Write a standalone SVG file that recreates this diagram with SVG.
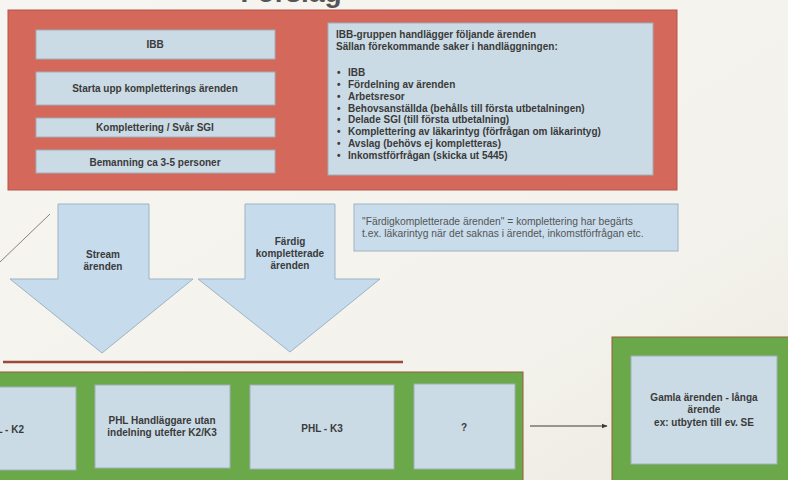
<svg xmlns="http://www.w3.org/2000/svg" width="788" height="480" viewBox="0 0 788 480">
  <defs>
    <linearGradient id="paper" x1="0" y1="0" x2="1" y2="1">
      <stop offset="0" stop-color="#f6f5f1"/>
      <stop offset="0.7" stop-color="#f3f2ec"/>
      <stop offset="1" stop-color="#ece9df"/>
    </linearGradient>
    <marker id="arrowhead" viewBox="0 0 10 10" refX="9" refY="5" markerWidth="6" markerHeight="6" orient="auto">
      <path d="M0,1 L10,5 L0,9 z" fill="#3a3a3a"/>
    </marker>
    <style>
      .panel-red { fill: #d3685b; stroke: #b8544a; stroke-width: 1; }
      .panel-green { fill: #6aa84a; stroke: #9a5a3a; stroke-width: 1; }
      .box { fill: #cbdbe5; stroke: #9fb0ba; stroke-width: 1; }
      .note { fill: #c8dceb; stroke: #9fb3c2; stroke-width: 1; }
      .arrow { fill: #c6dcec; stroke: #9db3c3; stroke-width: 1; }
      .t { font-family: "Liberation Sans", Arial, sans-serif; font-weight: bold; font-size: 10px; fill: #3a3a3a; }
      .c { text-anchor: middle; }
      .n { font-family: "Liberation Sans", Arial, sans-serif; font-size: 10.3px; fill: #555; }
      .title { font-family: "Liberation Sans", Arial, sans-serif; font-weight: bold; font-size: 28px; fill: #555; text-anchor: middle; }
    </style>
  </defs>

  <rect x="0" y="0" width="788" height="480" fill="url(#paper)"/>

  <text class="title" x="291" y="2">Förslag</text>

  <!-- upper panel: IBB group -->
  <g id="ibb-panel">
    <rect class="panel-red" x="8" y="10" width="669" height="180"/>
  </g>
  <g id="ibb">
    <rect class="box" x="36" y="30" width="239" height="29"/>
    <text class="t c" x="155" y="48">IBB</text>
  </g>
  <g id="starta">
    <rect class="box" x="36" y="72" width="239" height="33"/>
    <text class="t c" x="155" y="92">Starta upp kompletterings ärenden</text>
  </g>
  <g id="komplettering">
    <rect class="box" x="36" y="118" width="239" height="19"/>
    <text class="t c" x="155" y="131">Komplettering / Svår SGI</text>
  </g>
  <g id="bemanning">
    <rect class="box" x="36" y="150" width="239" height="23"/>
    <text class="t c" x="155" y="166">Bemanning ca 3-5 personer</text>
  </g>
  <g id="ibb-list">
    <rect class="box" x="328" y="23" width="325" height="152"/>
    <text class="t" x="336" y="38">IBB-gruppen handlägger följande ärenden</text>
    <text class="t" x="336" y="50">Sällan förekommande saker i handläggningen:</text>
    <g class="t">
      <text x="337" y="76">•</text><text x="348" y="76">IBB</text>
      <text x="337" y="88">•</text><text x="348" y="88">Fördelning av ärenden</text>
      <text x="337" y="100">•</text><text x="348" y="100">Arbetsresor</text>
      <text x="337" y="112">•</text><text x="348" y="112">Behovsanställda (behålls till första utbetalningen)</text>
      <text x="337" y="123">•</text><text x="348" y="123">Delade SGI (till första utbetalning)</text>
      <text x="337" y="135">•</text><text x="348" y="135">Komplettering av läkarintyg (förfrågan om läkarintyg)</text>
      <text x="337" y="147">•</text><text x="348" y="147">Avslag (behövs ej kompletteras)</text>
      <text x="337" y="159">•</text><text x="348" y="159">Inkomstförfrågan (skicka ut 5445)</text>
    </g>
  </g>

  <!-- flow arrows -->
  <g id="stream">
    <path class="arrow" d="M58,204 H149 V279 H193 L102,353 L10,279 H58 Z"/>
    <text class="t c" x="103" y="258">Stream</text>
    <text class="t c" x="103" y="270">ärenden</text>
  </g>
  <g id="fardig">
    <path class="arrow" d="M245,204 H335 V279 H380 L290,352 L198,279 H245 Z"/>
    <text class="t c" x="290" y="245">Färdig</text>
    <text class="t c" x="290" y="257">kompletterade</text>
    <text class="t c" x="290" y="269">ärenden</text>
  </g>
  <g id="definition">
    <rect class="note" x="354" y="204" width="324" height="47"/>
    <text class="n" x="362" y="225">"Färdigkompletterade ärenden" = komplettering har begärts</text>
    <text class="n" x="362" y="237">t.ex. läkarintyg när det saknas i ärendet, inkomstförfrågan etc.</text>
  </g>

  <!-- lower panel: PHL -->
  <g id="phl-panel">
    <rect class="panel-green" x="-2" y="372" width="525" height="112"/>
  </g>
  <g id="phl-k2">
    <rect class="box" x="-4" y="387" width="80" height="83"/>
    <text class="t" x="24" y="433" text-anchor="end">PHL - K2</text>
  </g>
  <g id="phl-handlaggare">
    <rect class="box" x="95" y="385" width="135" height="83"/>
    <text class="t c" x="162" y="424">PHL Handläggare utan</text>
    <text class="t c" x="162" y="436">indelning utefter K2/K3</text>
  </g>
  <g id="phl-k3">
    <rect class="box" x="250" y="385" width="144" height="84"/>
    <text class="t c" x="322" y="432">PHL - K3</text>
  </g>
  <g id="unknown">
    <rect class="box" x="414" y="384" width="101" height="85"/>
    <text class="t c" x="464" y="431">?</text>
  </g>

  <g id="old-panel">
    <rect class="panel-green" x="612" y="337" width="180" height="150"/>
  </g>
  <g id="gamla">
    <rect class="box" x="631" y="356" width="146" height="108"/>
    <text class="t c" x="704" y="401">Gamla ärenden - långa</text>
    <text class="t c" x="704" y="413">ärende</text>
    <text class="t c" x="704" y="426">ex: utbyten till ev. SE</text>
  </g>

  <!-- connectors and rules -->
  <g id="connectors">
    <line x1="0" y1="262" x2="50" y2="214" stroke="#8a7f7a" stroke-width="1"/>
    <line x1="3" y1="362" x2="403" y2="362" stroke="#9b4a3a" stroke-width="2.5"/>
    <line x1="530" y1="426" x2="607" y2="426" stroke="#3a3a3a" stroke-width="1" marker-end="url(#arrowhead)"/>
  </g>
</svg>
